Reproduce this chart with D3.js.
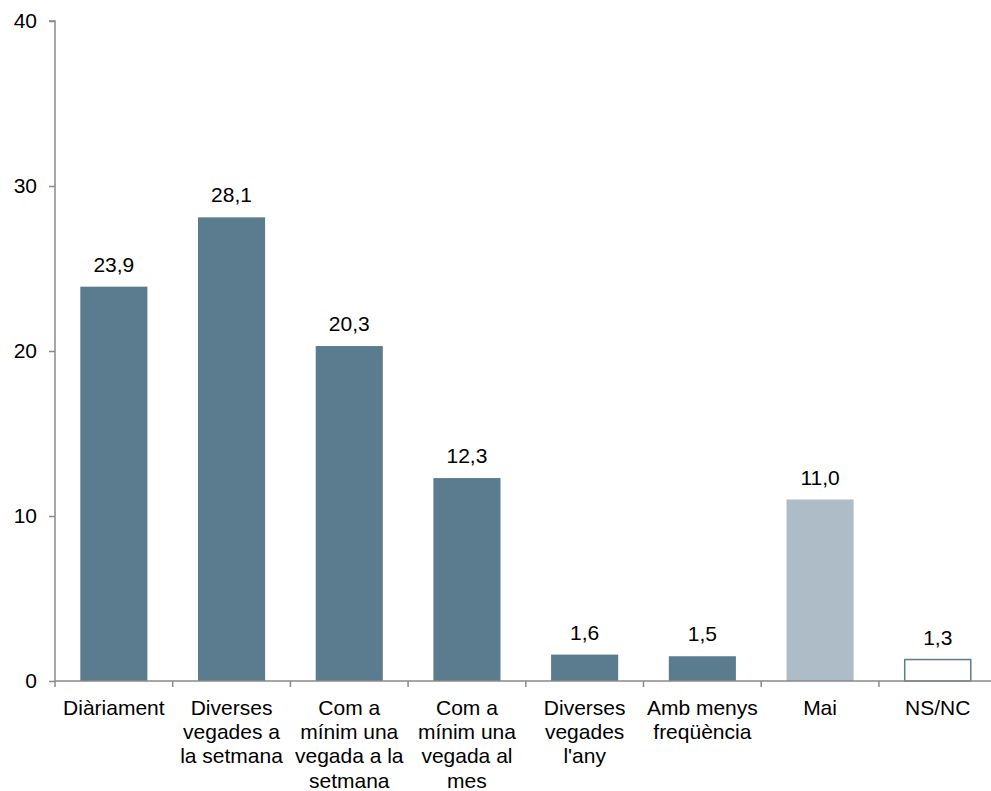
<!DOCTYPE html>
<html>
<head>
<meta charset="utf-8">
<script src="https://cdn.jsdelivr.net/npm/d3@7"></script>
<style>
  html, body { margin: 0; padding: 0; background: #fff; }
  svg { display: block; }
  text { font-family: "Liberation Sans", Arial, sans-serif; fill: #000; }
</style>
</head>
<body>
<svg id="chart" width="991" height="791"></svg>
<script>
const categories = ["Diàriament", "Diverses vegades a la setmana", "Com a mínim una vegada a la setmana", "Com a mínim una vegada al mes", "Diverses vegades l'any", "Amb menys freqüència", "Mai", "NS/NC"];
const categoryLines = [
  ["Diàriament"],
  ["Diverses", "vegades a", "la setmana"],
  ["Com a", "mínim una", "vegada a la", "setmana"],
  ["Com a", "mínim una", "vegada al", "mes"],
  ["Diverses", "vegades", "l'any"],
  ["Amb menys", "freqüència"],
  ["Mai"],
  ["NS/NC"]
];
const values = [23.9, 28.1, 20.3, 12.3, 1.6, 1.5, 11.0, 1.3];
const barStyle = ["dark", "dark", "dark", "dark", "dark", "dark", "light", "outline"];
const yTicks = [0, 10, 20, 30, 40];

const svg = d3.select("#chart");
const x0 = 55, x1 = 996.6, yTop = 21, yBottom = 681;
const fs = 21;

const x = d3.scaleBand().domain(categories).range([x0, x1]).paddingInner(0).paddingOuter(0);
const y = d3.scaleLinear().domain([0, 40]).range([yBottom, yTop]);
const barW = x.bandwidth() * 0.57;
const axisColor = "#898989";

// bars
const fills = { dark: "#5b7b8e", light: "#adbcc6", outline: "#ffffff" };
svg.append("g").selectAll("rect").data(values).join("rect")
  .attr("x", (d, i) => x(categories[i]) + (x.bandwidth() - barW) / 2 + (barStyle[i] === "outline" ? 0.5 : 0))
  .attr("y", d => y(d) + 0)
  .attr("width", (d, i) => barStyle[i] === "outline" ? barW - 1 : barW)
  .attr("height", d => yBottom - y(d))
  .attr("fill", (d, i) => fills[barStyle[i]])
  .attr("stroke", (d, i) => barStyle[i] === "outline" ? "#5b7b8e" : "none")
  .attr("stroke-width", 1.5);

// value labels
svg.append("g").selectAll("text").data(values).join("text")
  .attr("x", (d, i) => x(categories[i]) + x.bandwidth() / 2)
  .attr("y", d => y(d) - 15)
  .attr("text-anchor", "middle")
  .style("font-size", fs + "px")
  .text(d => d.toFixed(1).replace(".", ","));

// y axis
const yAxis = d3.axisLeft(y).tickValues(yTicks).tickSize(6).tickPadding(12).tickFormat(d3.format("d"));
const gy = svg.append("g").attr("transform", `translate(${x0},0)`).call(yAxis);
gy.select(".domain").attr("stroke", axisColor).attr("stroke-width", 1.5).attr("d", `M-6,${yTop}H0V${yBottom}`);
gy.selectAll(".tick line").attr("stroke", axisColor).attr("stroke-width", 1.5);
gy.selectAll(".tick text").style("font-size", fs + "px").style("font-family", "Liberation Sans, Arial, sans-serif").attr("fill", "#000");

// x axis
const xAxis = d3.axisBottom(x).tickSize(0).tickFormat("");
const gx = svg.append("g").attr("transform", `translate(0,${yBottom})`).call(xAxis);
gx.select(".domain").attr("stroke", axisColor).attr("stroke-width", 1.5).attr("d", `M${x0},0H${x1}`);
// boundary ticks
const bounds = categories.map(c => x(c)).concat([x1]);
gx.selectAll(".bound").data(bounds).join("line").attr("class", "bound")
  .attr("x1", d => d).attr("x2", d => d).attr("y1", 0).attr("y2", 6)
  .attr("stroke", axisColor).attr("stroke-width", 1.5);

// x labels
const lab = svg.append("g");
categoryLines.forEach((lines, i) => {
  const t = lab.append("text")
    .attr("x", x(categories[i]) + x.bandwidth() / 2)
    .attr("y", 715)
    .attr("text-anchor", "middle")
    .style("font-size", fs + "px");
  lines.forEach((l, j) => {
    t.append("tspan").attr("x", x(categories[i]) + x.bandwidth() / 2).attr("y", 715 + j * 24.2).text(l);
  });
});
</script>
</body>
</html>
